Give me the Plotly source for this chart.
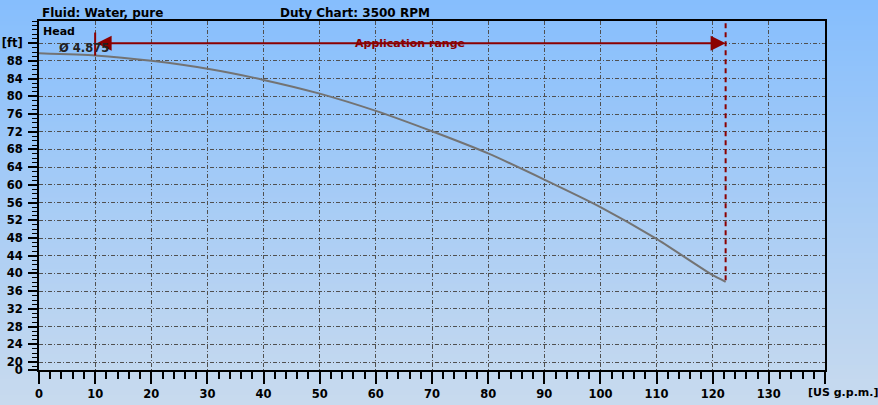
import plotly.graph_objects as go

# ---- data ----
flow_gpm = [0, 10, 20, 30, 40, 50, 60, 70, 80, 90, 100, 110, 120, 122.3]
head_ft = [89.7, 89.2, 88.0, 86.2, 83.7, 80.6, 76.7, 72.1, 67.1, 61.2, 55.0, 47.8, 39.6, 38.1]
impeller_label = "Ø 4.875"
app_range_gpm = [10, 122.3]
app_range_head = 92
app_left_marker_head = [89.2, 94.4]
app_right_marker_head = [96.5, 38.1]

x_tickvals = [0, 10, 20, 30, 40, 50, 60, 70, 80, 90, 100, 110, 120, 130, 140]
x_ticktext = ["0", "10", "20", "30", "40", "50", "60", "70", "80", "90", "100", "110", "120", "130", ""]
y_axis_bottom = 18.2
y_tickvals = [y_axis_bottom, 20, 24, 28, 32, 36, 40, 44, 48, 52, 56, 60, 64, 68, 72, 76, 80, 84, 88, 92]
y_ticktext = ["0", "20", "24", "28", "32", "36", "40", "44", "48", "52", "56", "60", "64", "68", "72", "76", "80", "84", "88", "[ft]"]

W, H = 878, 405
ML, MR, MT, MB = 39, 53, 21, 35
pw, ph = W - ML - MR, H - MT - MB

FONT = "DejaVu Sans"
DARKRED = "#8B0000"
GRID = "#505050"

fig = go.Figure()

# curve
fig.add_trace(go.Scatter(x=flow_gpm, y=head_ft, mode="lines", line=dict(color="#737373", width=2, shape="spline", smoothing=0.5), hoverinfo="skip", showlegend=False))
# left marker
fig.add_trace(go.Scatter(x=[app_range_gpm[0]] * 2, y=app_left_marker_head, mode="lines", line=dict(color=DARKRED, width=2), showlegend=False, hoverinfo="skip"))
# right dashed marker
fig.add_trace(go.Scatter(x=[app_range_gpm[1]] * 2, y=app_right_marker_head, mode="lines", line=dict(color=DARKRED, width=2, dash="5px,4px"), showlegend=False, hoverinfo="skip"))

# gradient background strips
n = 80
top = (134, 190, 253)
bot = (200, 218, 238)
for i in range(n):
    t = i / (n - 1)
    c = tuple(round(top[k] + (bot[k] - top[k]) * t) for k in range(3))
    y1px = i * H / n
    y0px = (i + 1) * H / n + 1
    fig.add_shape(type="rect", xref="paper", yref="paper",
                  x0=-ML / pw, x1=1 + MR / pw,
                  y0=1 + MT / ph - y0px / ph, y1=1 + MT / ph - y1px / ph,
                  fillcolor="rgb(%d,%d,%d)" % c, line=dict(width=0), layer="below")

# application range arrow
fig.add_annotation(x=app_range_gpm[1], y=app_range_head, ax=app_range_gpm[0], ay=app_range_head,
                   xref="x", yref="y", axref="x", ayref="y", text="", showarrow=True,
                   arrowhead=2, arrowside="end+start", arrowsize=1.5, arrowwidth=2, arrowcolor=DARKRED)
fig.add_annotation(x=(app_range_gpm[0] + app_range_gpm[1]) / 2, y=app_range_head, xref="x", yref="y",
                   text="<b>Application range</b>", showarrow=False,
                   font=dict(family=FONT, size=11, color=DARKRED), xanchor="center", yanchor="middle")
fig.add_annotation(x=3.2, y=91.0, xref="x", yref="y", text="<b>" + impeller_label + "</b>", showarrow=False,
                   font=dict(family=FONT, size=11.5, color="#222"), xanchor="left", yanchor="middle")

# texts
fig.add_annotation(x=(40 - ML) / pw, y=1 + (MT - 13) / ph, xref="paper", yref="paper",
                   text="<b>Fluid: Water, pure</b>", showarrow=False, xanchor="left", yanchor="middle",
                   font=dict(family=FONT, size=12, color="black"))
fig.add_annotation(x=(278 - ML) / pw, y=1 + (MT - 13) / ph, xref="paper", yref="paper",
                   text="<b>Duty Chart: 3500 RPM</b>", showarrow=False, xanchor="left", yanchor="middle",
                   font=dict(family=FONT, size=12, color="black"))
fig.add_annotation(x=(41 - ML) / pw, y=1 - (31 - MT) / ph, xref="paper", yref="paper",
                   text="<b>Head</b>", showarrow=False, xanchor="left", yanchor="middle",
                   font=dict(family=FONT, size=11, color="black"))
fig.add_annotation(x=(806 - ML) / pw, y=-(392 - MT - ph) / ph, xref="paper", yref="paper",
                   text="<b>[US g.p.m.]</b>", showarrow=False, xanchor="left", yanchor="middle",
                   font=dict(family=FONT, size=11, color="black"))

fig.update_layout(
    width=W, height=H, margin=dict(l=ML, r=MR, t=MT, b=MB, autoexpand=False),
    paper_bgcolor="rgb(167,204,245)", plot_bgcolor="rgba(0,0,0,0)",
    showlegend=False,
    font=dict(family=FONT, size=11, color="black"),
)
fig.update_xaxes(range=[0, 140], tickmode="array", tickvals=x_tickvals, ticktext=x_ticktext,
                 showgrid=True, gridcolor=GRID, griddash="4px,2px,1px,2px", gridwidth=1,
                 showline=True, linecolor="black", linewidth=2, mirror=True,
                 ticks="outside", ticklen=12, tickwidth=2, tickcolor="black",
                 tickfont=dict(family=FONT, size=11.5, color="black", weight="bold"),
                 minor=dict(tickmode="linear", tick0=0, dtick=2, ticks="outside", ticklen=7, tickwidth=2, tickcolor="black", showgrid=False),
                 zeroline=False, fixedrange=True)
fig.update_yaxes(range=[y_axis_bottom, 97], tickmode="array", tickvals=y_tickvals, ticktext=y_ticktext,
                 showgrid=True, gridcolor=GRID, griddash="4px,2px,1px,2px", gridwidth=1,
                 showline=True, linecolor="black", linewidth=2, mirror=True,
                 ticks="outside", ticklen=9, tickwidth=2, tickcolor="black", ticklabelstandoff=3,
                 tickfont=dict(family=FONT, size=11.5, color="black", weight="bold"),
                 minor=dict(tickmode="linear", tick0=0, dtick=1, ticks="outside", ticklen=5, tickwidth=1, tickcolor="black", showgrid=False),
                 zeroline=False, fixedrange=True)

fig.write_html("out.html", config={"displayModeBar": False},
               post_script="document.body.style.margin='0';document.body.style.overflow='hidden';")
